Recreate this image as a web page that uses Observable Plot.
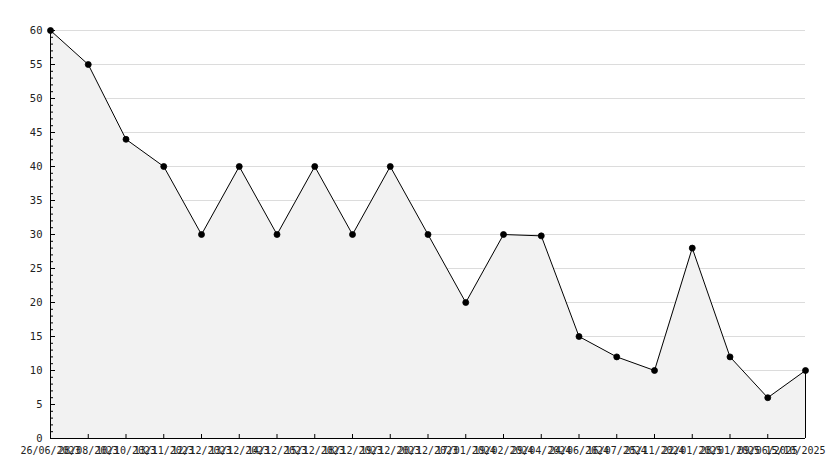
<!DOCTYPE html>
<html>
<head>
<meta charset="utf-8">
<script src="https://cdn.jsdelivr.net/npm/d3@7"></script>
<script src="https://cdn.jsdelivr.net/npm/@observablehq/plot@0.6"></script>
<style>
  body { margin: 0; background: #fff; }
  #chart svg { display: block; }
</style>
</head>
<body>
<div id="chart"></div>
<script>
const dateLabels = [
  "26/06/2023", "28/08/2023", "10/10/2023", "13/11/2023", "12/12/2023",
  "13/12/2023", "14/12/2023", "15/12/2023", "18/12/2023", "19/12/2023",
  "20/12/2023", "17/01/2024", "19/02/2024", "29/04/2024", "24/06/2024",
  "16/07/2024", "25/11/2024", "22/01/2025", "28/01/2025", "09/06/2025",
  "15/10/2025"
];
const values = [60, 55, 44, 40, 30, 40, 30, 40, 30, 40, 30, 20, 30, 29.8, 15, 12, 10, 28, 12, 6, 10];
const yMajorTicks = [0, 5, 10, 15, 20, 25, 30, 35, 40, 45, 50, 55, 60];
const yMinorTicks = d3.range(0, 61);

const data = values.map((v, i) => ({ i, v }));
const last = data[data.length - 1];
const xTicks = d3.range(dateLabels.length);

const chart = Plot.plot({
  width: 834,
  height: 468,
  marginLeft: 50,
  marginRight: 29,
  marginTop: 30,
  marginBottom: 30,
  style: { fontFamily: "DejaVu Sans Mono", fontSize: "10px", background: "#fff", color: "#222" },
  x: { domain: [0, dateLabels.length - 1], axis: null, label: null },
  y: { domain: [0, 60], axis: null, label: null },
  marks: [
    Plot.ruleY(yMajorTicks.filter(d => d > 0), { stroke: "#dcdcdc", strokeWidth: 1 }),
    Plot.areaY(data, { x: "i", y: "v", fill: "#f2f2f2" }),
    Plot.ruleX([last], { x: "i", y1: 0, y2: "v", stroke: "#000", strokeWidth: 1 }),
    Plot.lineY(data, { x: "i", y: "v", stroke: "#000", strokeWidth: 1 }),
    Plot.dot(data, { x: "i", y: "v", r: 3, fill: "#000", stroke: "#000", strokeWidth: 0.8 }),
    Plot.axisY({ ticks: yMinorTicks, tickSize: -3, text: null, label: null, stroke: "#000" }),
    Plot.axisY({ ticks: yMajorTicks, tickSize: -5, tickPadding: 13, label: null, stroke: "#000", fill: "#222", fontSize: "10.5px" }),
    Plot.axisX({ ticks: xTicks, tickSize: -4, text: null, label: null, stroke: "#000" }),
    Plot.axisX({ ticks: xTicks.slice(0, -1), tickSize: 0, tickPadding: 8, label: null, tickFormat: i => dateLabels[i], fill: "#222" }),
    Plot.axisX({ ticks: xTicks.slice(-1), tickSize: 0, tickPadding: 8, dx: -10, label: null, tickFormat: i => dateLabels[i], fill: "#222" }),
    Plot.ruleX([0], { stroke: "#000" }),
    Plot.ruleY([0], { stroke: "#000" })
  ]
});
document.getElementById("chart").append(chart);
</script>
</body>
</html>
